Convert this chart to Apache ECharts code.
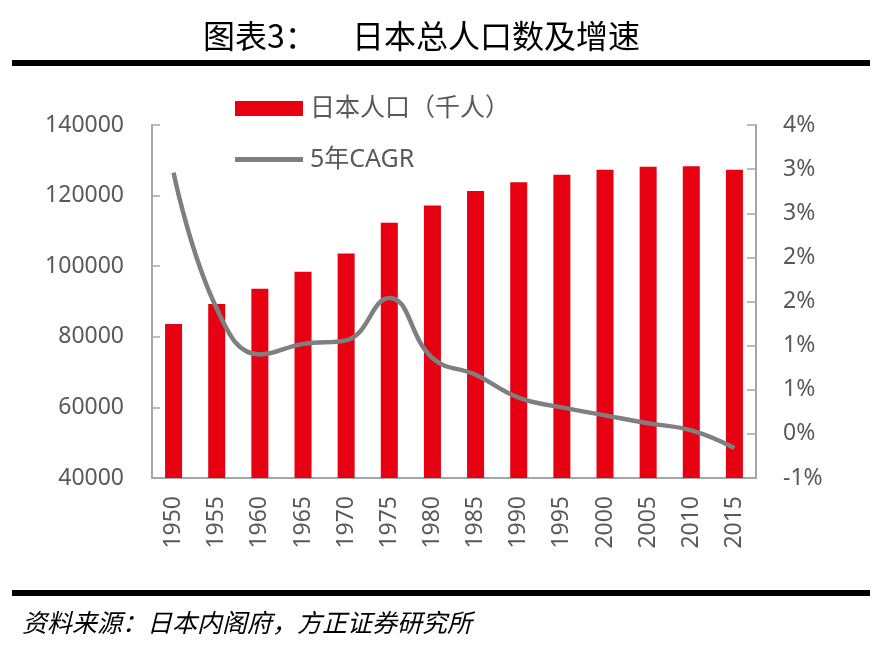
<!DOCTYPE html>
<html>
<head>
<meta charset="utf-8">
<script src="https://cdn.jsdelivr.net/npm/echarts@6/dist/echarts.min.js"></script>
<style>
  html, body { margin: 0; padding: 0; background: #fff; }
  #main { width: 882px; height: 670px; }
</style>
</head>
<body>
<div id="main"></div>
<script>
// 年份
var years = ['1950','1955','1960','1965','1970','1975','1980','1985','1990','1995','2000','2005','2010','2015'];
// 日本人口（千人）
var population = [83600, 89300, 93600, 98400, 103600, 112300, 117200, 121300, 123800, 125900, 127300, 128200, 128300, 127300];
// 5年CAGR (%)
var cagr = [2.96, 1.42, 0.90, 1.02, 1.06, 1.54, 0.86, 0.67, 0.41, 0.30, 0.21, 0.12, 0.04, -0.16];
// 右轴刻度标签（Excel 取整后的显示）
var rightLabels = ['-1%','0%','1%','1%','2%','2%','3%','3%','4%'];

var font = '"Noto Sans", "Noto Sans CJK SC", sans-serif';
var gray = '#595959';
var axisGray = '#a6a6a6';

var myChart = echarts.init(document.getElementById('main'), null, {renderer: 'canvas'});

var legendText = { fontSize: 25, color: gray, fontFamily: font, padding: [0, 0, 0, 2] };

var option = {
    backgroundColor: '#fff',
    animation: false,
    grid: {
        left: 152,
        right: 126,
        top: 125,
        bottom: 192
    },
    legend: [
        {
            left: 235,
            top: 96,
            padding: 0,
            itemWidth: 68,
            itemHeight: 15,
            textStyle: legendText,
            data: [{ name: '日本人口（千人）', icon: 'rect' }]
        },
        {
            left: 235,
            top: 147,
            padding: 0,
            itemWidth: 68,
            itemHeight: 5,
            itemGap: 2,
            textStyle: legendText,
            data: [{ name: '5年CAGR', icon: 'rect' }]
        }
    ],
    xAxis: {
        type: 'category',
        data: years,
        axisLine: { onZero: false, lineStyle: { color: axisGray, width: 2 } },
        axisTick: { inside: true, length: 8, lineStyle: { color: axisGray, width: 1.5 } },
        axisLabel: { rotate: 90, margin: 18, fontSize: 23, color: gray, fontFamily: font }
    },
    yAxis: [
        {
            type: 'value',
            min: 40000,
            max: 140000,
            interval: 20000,
            splitLine: { show: false },
            axisLine: { show: true, lineStyle: { color: axisGray, width: 2 } },
            axisTick: { show: true, inside: true, length: 8, lineStyle: { color: axisGray, width: 1.5 } },
            axisLabel: {
                margin: 28, fontSize: 23, color: gray, fontFamily: font,
                formatter: function (v) { return String(v); }
            }
        },
        {
            type: 'value',
            min: -0.5,
            max: 3.5,
            interval: 0.5,
            splitLine: { show: false },
            axisLine: { show: true, lineStyle: { color: axisGray, width: 2 } },
            axisTick: { show: true, inside: true, length: 9, lineStyle: { color: axisGray, width: 1.5 } },
            axisLabel: {
                margin: 27,
                fontSize: 23,
                color: gray,
                fontFamily: font,
                formatter: function (v) {
                    var i = Math.round((v + 0.5) / 0.5);
                    return rightLabels[i];
                }
            }
        }
    ],
    series: [
        {
            name: '日本人口（千人）',
            type: 'bar',
            data: population,
            barWidth: 17,
            itemStyle: { color: '#e60012' }
        },
        {
            name: '5年CAGR',
            type: 'line',
            yAxisIndex: 1,
            data: cagr,
            smooth: 0.45,
            symbol: 'none',
            lineStyle: { color: '#7f7f7f', width: 4.5 },
            itemStyle: { color: '#7f7f7f' }
        }
    ],
    graphic: [
        {
            type: 'text', left: 203, top: 20,
            style: { text: '图表3：', fontSize: 32, fill: '#000', fontFamily: '"Noto Sans CJK SC", serif' }
        },
        {
            type: 'text', left: 352, top: 20,
            style: { text: '日本总人口数及增速', fontSize: 32, fill: '#000', fontFamily: '"Noto Sans CJK SC", serif' }
        },
        {
            type: 'rect', shape: { x: 12, y: 60, width: 858, height: 6 },
            style: { fill: '#000' }
        },
        {
            type: 'rect', shape: { x: 12, y: 590, width: 858, height: 6 },
            style: { fill: '#000' }
        },
        {
            type: 'text', left: 22, top: 610,
            style: { text: '资料来源：日本内阁府，方正证券研究所', fontSize: 25, fontStyle: 'italic', fill: '#000', fontFamily: '"Noto Sans CJK SC", serif' }
        }
    ]
};

myChart.setOption(option);
</script>
</body>
</html>
